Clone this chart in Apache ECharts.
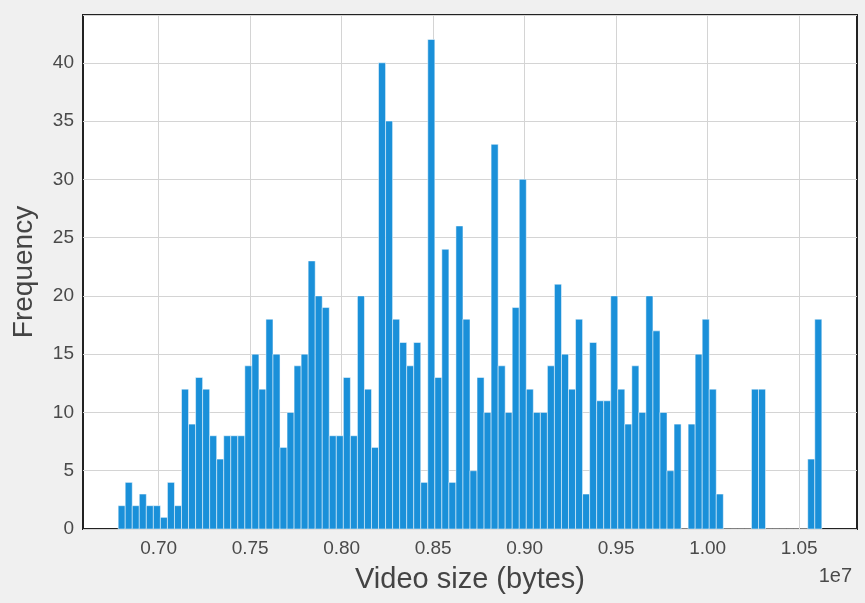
<!DOCTYPE html>
<html>
<head>
<meta charset="utf-8">
<script src="https://cdn.jsdelivr.net/npm/echarts@6/dist/echarts.min.js"></script>
<style>
  html, body { margin: 0; padding: 0; background: #f0f0f0; }
  #chart { width: 865px; height: 603px; }
</style>
</head>
<body>
<div id="chart"></div>
<script>
// Histogram: 100 bins of video size (bytes)
const binStart = 6779000;
const binWidth = 38450;
const counts = [
  2, 4, 2, 3, 2, 2, 1, 4, 2, 12,
  9, 13, 12, 8, 6, 8, 8, 8, 14, 15,
  12, 18, 15, 7, 10, 14, 15, 23, 20, 19,
  8, 8, 13, 8, 20, 12, 7, 40, 35, 18,
  16, 14, 16, 4, 42, 13, 24, 4, 26, 18,
  5, 13, 10, 33, 14, 10, 19, 30, 12, 10,
  10, 14, 21, 15, 12, 18, 3, 16, 11, 11,
  20, 12, 9, 14, 10, 20, 17, 10, 5, 9,
  0, 9, 15, 18, 12, 3, 0, 0, 0, 0,
  12, 12, 0, 0, 0, 0, 0, 0, 6, 18
];
const xTickValues = [7000000, 7500000, 8000000, 8500000, 9000000, 9500000, 10000000, 10500000];
const xTickLabels = ['0.70', '0.75', '0.80', '0.85', '0.90', '0.95', '1.00', '1.05'];
const xOffsetText = '1e7';
const xTitle = 'Video size (bytes)';
const yTitle = 'Frequency';

const histData = counts.map((c, i) => [binStart + i * binWidth, binStart + (i + 1) * binWidth, c]);

const FONT = '"Liberation Sans", Arial, sans-serif';
const chart = echarts.init(document.getElementById('chart'), null, { renderer: 'canvas' });
chart.setOption({
  backgroundColor: '#f0f0f0',
  animation: false,
  title: {
    text: xOffsetText,
    right: 8,
    top: 561,
    textStyle: { fontFamily: FONT, fontSize: 20, fontWeight: 'normal', color: '#4a4a4a' }
  },
  grid: {
    left: 83, right: 8, top: 15, bottom: 74,
    outerBoundsMode: 'none',
    containLabel: false,
    show: true,
    backgroundColor: '#ffffff',
    borderColor: '#222222',
    borderWidth: 2
  },
  xAxis: {
    type: 'value',
    min: 6586750,
    max: 10816250,
    name: xTitle,
    nameLocation: 'middle',
    nameGap: 36,
    nameTextStyle: { fontFamily: FONT, fontSize: 29, color: '#444' },
    axisLine: { show: false },
    axisTick: { show: false, customValues: xTickValues },
    axisLabel: {
      customValues: xTickValues,
      formatter: v => xTickLabels[xTickValues.indexOf(v)] || (v / 1e7).toFixed(2),
      fontFamily: FONT, fontSize: 19, color: '#4a4a4a', margin: 10
    },
    splitLine: { show: true, lineStyle: { color: '#d4d4d4', width: 1 } }
  },
  yAxis: {
    type: 'value',
    min: 0,
    max: 44.1,
    interval: 5,
    name: yTitle,
    nameLocation: 'middle',
    nameGap: 45,
    nameTextStyle: { fontFamily: FONT, fontSize: 28, color: '#444' },
    axisLine: { show: false },
    axisTick: { show: false },
    axisLabel: { fontFamily: FONT, fontSize: 19, color: '#4a4a4a', margin: 9, showMaxLabel: false },
    splitLine: { show: true, lineStyle: { color: '#d4d4d4', width: 1 } }
  },
  series: [{
    type: 'custom',
    data: histData,
    encode: { x: [0, 1], y: 2 },
    renderItem: function (params, api) {
      const p0 = api.coord([api.value(0), api.value(2)]);
      const p1 = api.coord([api.value(1), 0]);
      return {
        type: 'rect',
        shape: { x: p0[0], y: p0[1], width: p1[0] - p0[0], height: p1[1] - p0[1] },
        style: { fill: '#1a90d9', stroke: '#ffffff', lineWidth: 0.5 }
      };
    }
  }]
});
</script>
</body>
</html>
